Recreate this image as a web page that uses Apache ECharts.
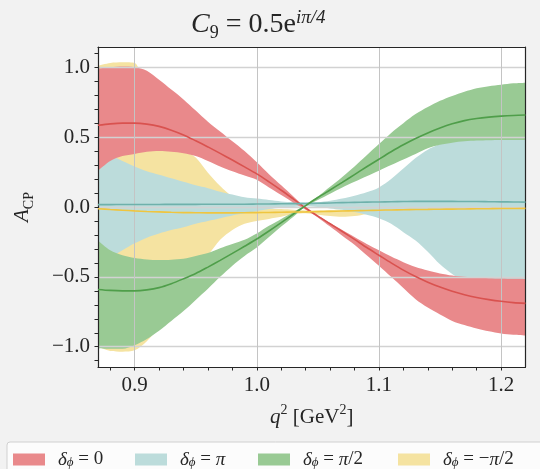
<!DOCTYPE html>
<html>
<head>
<meta charset="utf-8">
<script src="https://cdn.jsdelivr.net/npm/echarts@6/dist/echarts.min.js"></script>
<style>
  html, body { margin: 0; background: #f2f2f2; }
  #chart { width: 540px; height: 469px; }
</style>
</head>
<body>
<div id="chart"></div>
<script>
// q^2 grid [GeV^2], equally spaced so it can sit on a category axis
const q = [0.87, 0.88, 0.89, 0.90, 0.91, 0.92, 0.93, 0.94, 0.95, 0.96, 0.97, 0.98,
           0.99, 1.00, 1.01, 1.02, 1.03, 1.04, 1.05, 1.06, 1.07, 1.08, 1.09, 1.10,
           1.11, 1.12, 1.13, 1.14, 1.15, 1.16, 1.17, 1.18, 1.19, 1.20, 1.21, 1.22]

// delta_phi = 0
const redMid = [0.585, 0.595, 0.600, 0.600, 0.593, 0.577, 0.550, 0.516, 0.474, 0.430, 0.384, 0.336,
                0.287, 0.237, 0.180, 0.120, 0.057, -0.007, -0.065, -0.120, -0.175, -0.232, -0.290, -0.345,
                -0.400, -0.452, -0.498, -0.538, -0.573, -0.603, -0.628, -0.648, -0.663, -0.675, -0.684, -0.690]
const redHi = [0.990, 1.000, 1.005, 1.000, 0.975, 0.910, 0.840, 0.770, 0.690, 0.610, 0.540, 0.470,
               0.400, 0.320, 0.235, 0.155, 0.075, -0.005, -0.060, -0.115, -0.165, -0.215, -0.265, -0.310,
               -0.355, -0.395, -0.430, -0.455, -0.475, -0.490, -0.500, -0.505, -0.510, -0.512, -0.514, -0.515]
const redLo = [0.260, 0.330, 0.365, 0.380, 0.395, 0.400, 0.395, 0.385, 0.365, 0.330, 0.290, 0.255,
               0.225, 0.195, 0.140, 0.085, 0.030, -0.020, -0.075, -0.140, -0.205, -0.270, -0.345, -0.420,
               -0.500, -0.580, -0.660, -0.720, -0.770, -0.815, -0.845, -0.870, -0.890, -0.905, -0.915, -0.920]

// delta_phi = pi
const tealMid = [0.017, 0.017, 0.018, 0.018, 0.018, 0.018, 0.019, 0.019, 0.019, 0.020, 0.020, 0.020,
                 0.020, 0.021, 0.022, 0.023, 0.024, 0.025, 0.027, 0.029, 0.031, 0.033, 0.035, 0.036,
                 0.038, 0.039, 0.040, 0.040, 0.040, 0.040, 0.039, 0.039, 0.038, 0.037, 0.036, 0.035]
const tealHi = [0.400, 0.370, 0.330, 0.290, 0.255, 0.230, 0.205, 0.180, 0.155, 0.135, 0.110, 0.090,
                0.070, 0.060, 0.050, 0.040, 0.035, 0.033, 0.035, 0.045, 0.060, 0.080, 0.105, 0.140,
                0.200, 0.275, 0.350, 0.410, 0.450, 0.485, 0.490, 0.490, 0.490, 0.490, 0.490, 0.490]
const tealLo = [-0.400, -0.360, -0.310, -0.260, -0.220, -0.190, -0.165, -0.145, -0.120, -0.100, -0.080, -0.060,
                -0.045, -0.030, -0.015, -0.005, 0.000, 0.005, 0.000, -0.010, -0.020, -0.035, -0.055, -0.080,
                -0.120, -0.180, -0.240, -0.320, -0.410, -0.480, -0.530, -0.530, -0.530, -0.530, -0.530, -0.530]

// delta_phi = pi/2
const greenMid = [-0.590, -0.597, -0.600, -0.600, -0.593, -0.577, -0.549, -0.514, -0.476, -0.430, -0.382, -0.332,
                  -0.281, -0.229, -0.172, -0.112, -0.050, 0.010, 0.068, 0.122, 0.176, 0.232, 0.288, 0.342,
                  0.395, 0.445, 0.490, 0.530, 0.565, 0.595, 0.618, 0.633, 0.643, 0.650, 0.655, 0.658]
const greenHi = [-0.240, -0.310, -0.345, -0.365, -0.375, -0.380, -0.377, -0.370, -0.350, -0.330, -0.295, -0.265,
                 -0.235, -0.190, -0.135, -0.085, -0.035, 0.015, 0.075, 0.145, 0.215, 0.290, 0.370, 0.450,
                 0.530, 0.600, 0.665, 0.715, 0.760, 0.795, 0.825, 0.850, 0.865, 0.875, 0.885, 0.890]
const greenLo = [-1.010, -1.015, -1.015, -0.990, -0.945, -0.885, -0.815, -0.745, -0.665, -0.585, -0.500, -0.420,
                 -0.350, -0.290, -0.215, -0.140, -0.070, 0.005, 0.050, 0.095, 0.140, 0.180, 0.220, 0.260,
                 0.300, 0.340, 0.380, 0.420, 0.445, 0.460, 0.470, 0.475, 0.478, 0.480, 0.480, 0.480]

// delta_phi = -pi/2
const yelMid = [-0.012, -0.018, -0.023, -0.028, -0.032, -0.035, -0.038, -0.040, -0.041, -0.042, -0.042, -0.042,
                -0.041, -0.040, -0.039, -0.038, -0.036, -0.035, -0.033, -0.031, -0.029, -0.027, -0.025, -0.023,
                -0.021, -0.020, -0.018, -0.017, -0.016, -0.015, -0.014, -0.013, -0.012, -0.011, -0.011, -0.010]
const yelHi = [1.010, 1.030, 1.035, 1.030, 0.800, 0.600, 0.450, 0.400, 0.355, 0.245, 0.150, 0.075,
               0.030, 0.000, -0.010, -0.015, -0.020, -0.025, -0.025, -0.022, -0.020, -0.020, -0.018, -0.016,
               -0.015, -0.014, -0.013, -0.012, -0.011, -0.010, -0.009, -0.008, -0.007, -0.006, -0.006, -0.005]
const yelLo = [-1.000, -1.030, -1.035, -1.025, -0.960, -0.850, -0.600, -0.450, -0.380, -0.340, -0.235, -0.165,
               -0.120, -0.100, -0.085, -0.070, -0.050, -0.045, -0.055, -0.065, -0.070, -0.065, -0.050, -0.030,
               -0.026, -0.025, -0.023, -0.022, -0.021, -0.020, -0.019, -0.018, -0.017, -0.016, -0.016, -0.015]

// axis ticks / labels
const xMajor = ['0.90', '1.00', '1.10', '1.20']
const xTicks = ['0.88', '0.90', '0.92', '0.94', '0.96', '0.98', '1.00', '1.02', '1.04', '1.06', '1.08', '1.10',
                '1.12', '1.14', '1.16', '1.18', '1.20']
const yMajor = [-1.0, -0.5, 0.0, 0.5, 1.0]
const yTicks = [-1.1, -1.0, -0.9, -0.8, -0.7, -0.6, -0.5, -0.4, -0.3, -0.2, -0.1, 0.0,
                0.1, 0.2, 0.3, 0.4, 0.5, 0.6, 0.7, 0.8, 0.9, 1.0, 1.1]

const legendNames = ['d0', 'dpi', 'dpi2', 'dmpi2']
const legendLabels = {
  d0: '{i|δ}{s|ϕ} = 0',
  dpi: '{i|δ}{s|ϕ} = {i|π}',
  dpi2: '{i|δ}{s|ϕ} = {i|π}/2',
  dmpi2: '{i|δ}{s|ϕ} = −{i|π}/2'
}
const legendLeft = [7, 129, 252, 392]

const FONT = 'Liberation Serif, DejaVu Serif, serif'
const INK = '#262626'
const qCat = q.map(v => v.toFixed(2))

// band = invisible lower line + stacked (hi - lo) area
function band(key, lo, hi, color) {
  return [{
    name: key + '_lo', type: 'line', stack: key, stackStrategy: 'all',
    data: lo, symbol: 'none', smooth: 0.3, silent: true,
    lineStyle: { opacity: 0 }, z: 2
  }, {
    name: key, type: 'line', stack: key, stackStrategy: 'all',
    data: hi.map((v, i) => v - lo[i]), symbol: 'none', smooth: 0.3, silent: true,
    lineStyle: { opacity: 0 }, itemStyle: { color: color },
    areaStyle: { color: color, opacity: 1 }, z: 2
  }]
}

function centre(key, ys, color) {
  return {
    name: key + '_mid', type: 'line', data: ys, symbol: 'none', smooth: 0.3, silent: true,
    lineStyle: { color: color, width: 1.6 }, z: 4
  }
}

const subRich = {
  i: { fontFamily: FONT, fontStyle: 'italic', fontSize: 21, color: INK },
  s: { fontFamily: FONT, fontSize: 14, verticalAlign: 'bottom', lineHeight: 14, color: INK },
  p: { fontFamily: FONT, fontSize: 14, verticalAlign: 'top', lineHeight: 14, color: INK }
}

const legendRich = {
  i: { fontFamily: FONT, fontStyle: 'italic', fontSize: 19, color: INK },
  s: { fontFamily: FONT, fontStyle: 'italic', fontSize: 13, verticalAlign: 'bottom', lineHeight: 13, color: INK }
}

// one legend per entry so every swatch sits where the reference has it
const legends = legendNames.map((name, k) => ({
  data: [name],
  left: legendLeft[k], top: 442,
  padding: k === 0 ? [8, 460, 8, 6] : [8, 6, 8, 6],
  icon: 'rect',
  itemWidth: 32, itemHeight: 12,
  backgroundColor: k === 0 ? '#fcfcfc' : 'transparent',
  borderColor: k === 0 ? '#d0d0d0' : 'transparent',
  borderWidth: k === 0 ? 1 : 0,
  borderRadius: 3,
  itemStyle: { borderWidth: 0 },
  formatter: n => legendLabels[n],
  textStyle: { fontFamily: FONT, fontSize: 19, color: INK, padding: [0, 0, 0, 8], rich: legendRich },
  selectedMode: false
}))

const chart = echarts.init(document.getElementById('chart'), null, { renderer: 'canvas' })

chart.setOption({
  backgroundColor: '#f2f2f2',
  animation: false,
  title: {
    text: '{i|C}{s|9} = 0.5e{p|iπ/4}',
    left: 186, top: 3,
    textStyle: {
      fontFamily: FONT, fontSize: 28, fontWeight: 'normal', color: INK, lineHeight: 34,
      rich: {
        i: { fontFamily: FONT, fontStyle: 'italic', fontSize: 28, color: INK },
        s: { fontFamily: FONT, fontSize: 18, verticalAlign: 'bottom', lineHeight: 18, color: INK },
        p: { fontFamily: FONT, fontStyle: 'italic', fontSize: 19, verticalAlign: 'top', lineHeight: 18, color: INK }
      }
    }
  },
  legend: legends,
  grid: {
    left: 95, right: 14.5, top: 47, bottom: 102,
    show: true, backgroundColor: '#ffffff', borderWidth: 0
  },
  xAxis: [{
    type: 'category', data: qCat, boundaryGap: false, position: 'bottom', z: 3,
    axisLine: { show: true, onZero: false, lineStyle: { color: INK, width: 1.2 } },
    axisTick: { show: true, interval: (i, v) => xTicks.indexOf(v) >= 0, length: 3.5, lineStyle: { color: INK } },
    axisLabel: {
      interval: (i, v) => xMajor.indexOf(v) >= 0, margin: 8, fontFamily: FONT, fontSize: 21, color: INK,
      formatter: v => parseFloat(v).toFixed(1)
    },
    splitLine: { show: true, interval: (i, v) => xMajor.indexOf(v) >= 0, lineStyle: { color: '#c4c4c4', width: 1 } },
    name: '{i|q}{p|2} [GeV{p|2}]', nameLocation: 'middle', nameGap: 36,
    nameTextStyle: { fontFamily: FONT, fontSize: 21, color: INK, lineHeight: 28, rich: subRich }
  }, {
    type: 'category', data: qCat, boundaryGap: false, position: 'top', z: 3,
    axisLine: { show: true, onZero: false, lineStyle: { color: INK, width: 1.2 } },
    axisTick: { show: false },
    axisLabel: { show: false },
    splitLine: { show: false }
  }],
  yAxis: [{
    type: 'value', min: -1.145, max: 1.145, position: 'left', splitNumber: 5, z: 3,
    axisLine: { show: true, onZero: false, lineStyle: { color: INK, width: 1.2 } },
    axisTick: { show: true, customValues: yTicks, length: 3.5, lineStyle: { color: INK } },
    axisLabel: {
      customValues: yMajor, margin: 8, fontFamily: FONT, fontSize: 21, color: INK,
      formatter: v => Math.abs(v * 2 - Math.round(v * 2)) < 1e-6 ? v.toFixed(1).replace('-', '−') : ''
    },
    splitLine: { show: false },
    name: '{i|A}{s|CP}', nameLocation: 'middle', nameGap: 62,
    nameTextStyle: { fontFamily: FONT, fontSize: 21, color: INK, lineHeight: 28, rich: subRich }
  }, {
    type: 'value', min: -1.145, max: 1.145, position: 'right', splitNumber: 5, z: 3,
    axisLine: { show: true, onZero: false, lineStyle: { color: INK, width: 1.2 } },
    axisTick: { show: false, customValues: yMajor },
    axisLabel: { show: false },
    splitLine: { show: true, lineStyle: { color: '#d2d2d2', width: 1.4 } }
  }],
  series: [].concat(
    band('dmpi2', yelLo, yelHi, '#f5e3a1'),
    band('dpi', tealLo, tealHi, '#bcdcdb'),
    band('d0', redLo, redHi, '#e9898b'),
    band('dpi2', greenLo, greenHi, '#99ca94'),
    [
      centre('d0', redMid, '#d9524f'),
      centre('dpi', tealMid, '#6eb1ab'),
      centre('dpi2', greenMid, '#4f9e4a'),
      centre('dmpi2', yelMid, '#efc53f')
    ]
  )
})
</script>
</body>
</html>
